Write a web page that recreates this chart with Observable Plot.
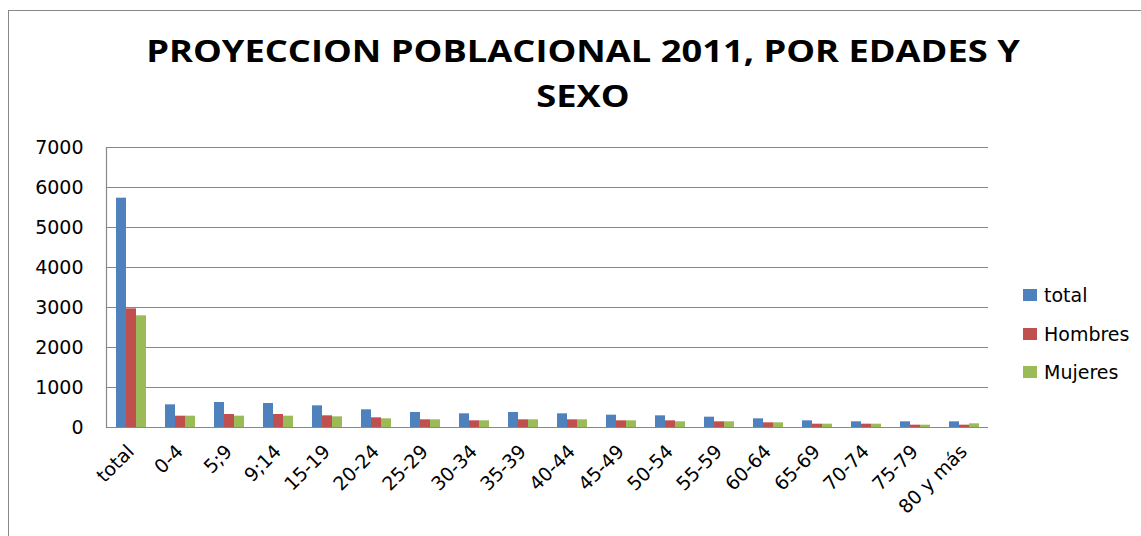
<!DOCTYPE html>
<html>
<head>
<meta charset="utf-8">
<script src="https://cdn.jsdelivr.net/npm/d3@7"></script>
<script src="https://cdn.jsdelivr.net/npm/@observablehq/plot@0.6"></script>
<style>
  html, body { margin: 0; padding: 0; background: #fff; }
  #wrap { position: relative; width: 1141px; height: 536px; overflow: hidden; background: #fff; }
  #border { position: absolute; left: 8px; top: 10px; width: 1200px; height: 600px;
            border-left: 1.5px solid #888; border-top: 1.5px solid #888; box-sizing: border-box; }
  #title { position: absolute; left: 0; top: 28px; width: 1166px; text-align: center;
           font-family: "Open Sans", sans-serif; font-weight: 700; font-size: 31px; line-height: 45px; color: #000;
           transform: scaleX(1.17); transform-origin: 583px 0; }
  #chart { position: absolute; left: 0; top: 130px; }
  #legend { position: absolute; left: 1023px; top: 276px; font-family: "DejaVu Sans", sans-serif; font-size: 19px; color: #000; }
  .item { height: 38.5px; display: flex; align-items: center; }
  .sw { width: 14px; height: 12px; margin-right: 7px; }
</style>
</head>
<body>
<div id="wrap">
  <div id="border"></div>
  <div id="title">PROYECCION POBLACIONAL 2011, POR EDADES Y<br>SEXO</div>
  <div id="chart"></div>
  <div id="legend"></div>
</div>
<script>
const categories = ["total","0-4","5;9","9;14","15-19","20-24","25-29","30-34","35-39","40-44","45-49","50-54","55-59","60-64","65-69","70-74","75-79","80 y más"];
const series = ["total","Hombres","Mujeres"];
const totalValues   = [5733, 567, 625, 600, 542, 442, 375, 342, 375, 342, 308, 292, 258, 217, 167, 142, 142, 142];
const hombresValues = [2967, 283, 325, 325, 292, 242, 192, 167, 192, 192, 167, 167, 142, 117, 83, 83, 58, 58];
const mujeresValues = [2792, 283, 283, 283, 267, 217, 192, 167, 192, 192, 167, 142, 142, 117, 83, 83, 58, 92];
const yTicks = [0, 1000, 2000, 3000, 4000, 5000, 6000, 7000];
const colors = ["#4F81BD", "#C0504D", "#9BBB59"];

const seriesValues = [totalValues, hombresValues, mujeresValues];
const data = categories.flatMap((c, i) => series.map((s, j) => ({cat: c, serie: s, value: seriesValues[j][i]})));

const chart = Plot.plot({
  width: 1141,
  height: 406,
  marginLeft: 105,
  marginRight: 153,
  marginTop: 17,
  marginBottom: 109,
  style: {fontFamily: "DejaVu Sans, sans-serif", fontSize: "19px", color: "#000", background: "transparent", overflow: "visible"},
  fx: {domain: categories, padding: 0, label: null},
  x: {domain: series, axis: null, paddingInner: 0, paddingOuter: 0.73},
  y: {domain: [0, 7000], label: null},
  color: {domain: series, range: colors},
  marks: [
    Plot.gridY(yTicks, {stroke: "#888", strokeOpacity: 1, strokeWidth: 1}),
    Plot.axisY(yTicks, {tickSize: 0, tickPadding: 23, tickFormat: d => String(d), label: null, fontSize: 19}),
    Plot.axisFx({anchor: "bottom", tickRotate: -45, tickSize: 0, tickPadding: 21, fontSize: 19, label: null}),
    Plot.barY(data, {fx: "cat", x: "serie", y: "value", fill: "serie"}),
    Plot.ruleY([0], {stroke: "#888", strokeWidth: 1.2}),
    Plot.frame({anchor: "left", stroke: "#888", strokeWidth: 1.2, facetAnchor: "left"})
  ]
});
document.getElementById("chart").appendChild(chart);

const legend = d3.select("#legend");
series.forEach((s, i) => {
  const it = legend.append("div").attr("class", "item");
  it.append("div").attr("class", "sw").style("background", colors[i]);
  it.append("span").text(s);
});
</script>
</body>
</html>
